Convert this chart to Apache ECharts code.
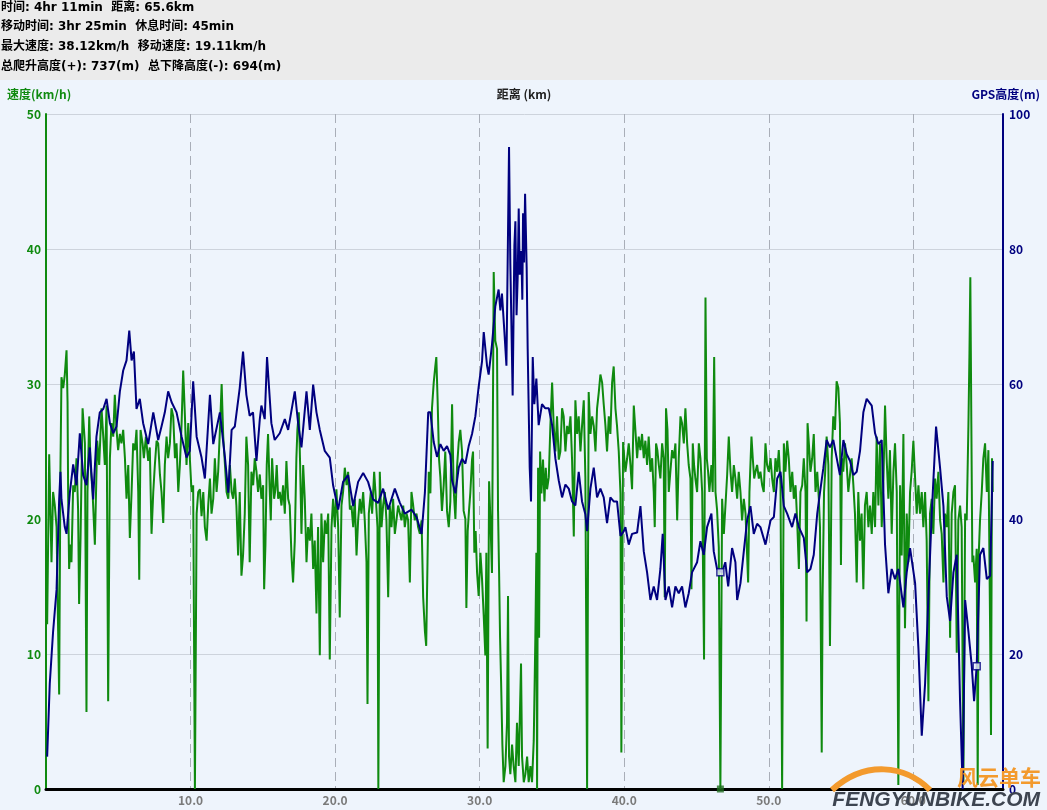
<!DOCTYPE html>
<html><head><meta charset="utf-8">
<script src="https://cdn.jsdelivr.net/npm/echarts@6/dist/echarts.min.js"></script>
<style>html,body{margin:0;padding:0;background:#eef4fc;}#c{width:1047px;height:810px;}</style>
</head><body><div id="c"></div>
<script>
// ---- header text ----
const headerLines = [
  '时间: 4hr 11min  距离: 65.6km',
  '移动时间: 3hr 25min  休息时间: 45min',
  '最大速度: 38.12km/h  移动速度: 19.11km/h',
  '总爬升高度(+): 737(m)  总下降高度(-): 694(m)'
];
const xAxisName = '距离 (km)';
const speedAxisName = '速度(km/h)';
const altAxisName = 'GPS高度(m)';
const xRange = [0, 66.2, 10];
const speedRange = [0, 50, 10];
const altRange = [0, 100, 20];

// ---- speed (km/h) vs distance (km) ----
const speed = [
[0.08,12.2],[0.22,24.8],[0.38,16.8],[0.49,22],[0.61,21],[0.73,19.4],[0.84,11.7],[0.91,7.0],[1.00,23.8],[1.07,30.5],[1.19,29.7],[1.30,30.7],[1.42,32.5],[1.49,28.7],[1.53,22],[1.60,16.3],[1.69,18.1],[1.76,16.8],[1.88,22.5],[1.99,22],[2.11,24.5],[2.22,20.7],[2.29,13.7],[2.39,18.6],[2.53,28.2],[2.69,25.6],[2.80,5.7],[2.87,22],[2.99,27.6],[3.08,24],[3.22,22],[3.38,18.1],[3.54,25.8],[3.68,24],[3.84,28.2],[3.96,26.1],[4.07,24],[4.19,28.4],[4.30,6.5],[4.42,24.5],[4.53,27.1],[4.65,26.1],[4.76,29.2],[4.88,26.6],[4.99,25.1],[5.11,26.3],[5.22,25.6],[5.34,26.6],[5.46,24.5],[5.57,21.5],[5.69,24],[5.80,18.6],[5.92,22],[6.03,25.6],[6.15,25.1],[6.26,26.6],[6.38,22],[6.45,15.5],[6.54,26.6],[6.68,25.6],[6.77,24.5],[6.91,26.1],[7.07,24.3],[7.18,25.3],[7.30,18.9],[7.42,22],[7.53,24],[7.65,25.8],[7.76,25.6],[7.88,23.3],[7.99,22],[8.11,19.7],[8.22,24],[8.34,26.1],[8.45,24.5],[8.57,25.6],[8.68,28.2],[8.80,27.6],[8.92,24.5],[9.03,25.6],[9.15,22],[9.26,24],[9.38,27.1],[9.49,31],[9.61,27.6],[9.72,24],[9.84,27.1],[9.95,24.5],[10.07,22],[10.18,22.5],[10.30,0],[10.42,20.4],[10.53,22],[10.65,22.2],[10.76,20.2],[10.88,22],[10.99,19.4],[11.11,18.4],[11.22,21],[11.34,23],[11.45,20.4],[11.57,21.5],[11.68,24.5],[11.80,22],[11.91,23.5],[12.03,26.6],[12.15,30],[12.26,26.1],[12.38,24],[12.49,22],[12.61,21.5],[12.72,24],[12.84,22],[12.95,21.5],
[13.06,23.0],[13.17,21],[13.29,17.3],[13.40,22],[13.52,15.8],[13.63,17.3],[13.75,20.4],[13.86,26.1],[13.98,24],[14.09,16.8],[14.21,23.5],[14.33,22.5],[14.44,24.5],[14.56,23.5],[14.67,22],[14.79,23.3],[14.90,21.5],[15.02,22.5],[15.09,14.8],[15.18,18.1],[15.27,24],[15.36,26.3],[15.48,22],[15.55,19.9],[15.64,24.5],[15.78,21.5],[15.87,22.2],[15.96,24],[16.06,21.5],[16.17,22],[16.29,21],[16.40,22.5],[16.52,20.4],[16.63,24.3],[16.75,21.5],[16.86,21],[16.98,17.3],[17.09,15.3],[17.21,18.4],[17.32,24.5],[17.39,26.6],[17.49,27.9],[17.58,24],[17.67,18.9],[17.79,24],[17.90,21.5],[18.02,16.8],[18.13,19.4],[18.25,18.4],[18.36,20.4],[18.48,16.3],[18.59,18.4],[18.71,13],[18.82,19.4],[18.94,9.9],[19.05,20.4],[19.17,16.8],[19.29,19.9],[19.40,18.9],[19.52,20.4],[19.63,9.6],[19.75,19.4],[19.86,21.5],[19.98,19.4],[20.09,22.2],[20.21,19.4],[20.32,12.7],[20.44,21],[20.55,22],[20.67,23.8],[20.79,22.5],[20.90,23.5],[21.02,20.7],[21.13,21],[21.25,19.4],[21.36,21.5],[21.48,17.3],[21.59,19.9],[21.71,21.5],[21.82,20.4],[21.94,22],[22.05,19.9],[22.17,16.8],[22.24,6.3],[22.33,20.4],[22.47,22],[22.56,20.4],[22.70,23.5],[22.79,22],[22.93,19.4],[22.99,0],[23.09,23.5],[23.21,19.4],[23.32,21],[23.44,22],[23.55,19.9],[23.67,14.2],[23.78,21],[23.90,19.4],[24.01,21.5],[24.13,18.9],[24.24,19.9],[24.36,21],[24.48,20.4],[24.59,19.9],[24.71,21],[24.82,19.4],[24.94,20.4],[25.05,19.9],[25.17,15.3],[25.28,22],[25.40,21],[25.51,19.9],[25.63,20.4],[25.74,19.4],[25.86,18.9],[25.98,19.9],[26.09,14.2],[26.21,11.7],[26.30,10.6],[26.39,16.8],[26.48,23.5],
[26.59,21.9],[26.70,28.2],[26.82,30.1],[26.93,31.3],[27.00,32.0],[27.09,28.8],[27.19,24.4],[27.28,23.1],[27.39,20.6],[27.51,22.5],[27.62,25.0],[27.74,20.6],[27.86,19.4],[27.97,21.3],[28.09,28.5],[28.20,22.2],[28.32,20.0],[28.43,23.8],[28.55,25.7],[28.66,26.6],[28.78,25.0],[28.89,20.6],[29.01,20.0],[29.08,13.4],[29.17,19.1],[29.26,20.6],[29.35,21.9],[29.47,24.4],[29.54,25.0],[29.63,17.5],[29.72,19.1],[29.82,16.0],[29.93,14.3],[30.05,17.5],[30.16,15.6],[30.28,12.8],[30.39,9.9],[30.46,17.5],[30.55,3.0],[30.65,22.8],[30.74,20.0],[30.85,16.0],[30.97,38.3],[31.08,33.2],[31.20,32.6],[31.27,20.6],[31.34,16.2],[31.41,11.2],[31.48,8.0],[31.57,3.3],[31.66,0.5],[31.78,1.7],[31.89,4.9],[31.96,14.3],[32.03,2.4],[32.12,1.1],[32.24,3.3],[32.35,1.7],[32.47,0.5],[32.58,4.9],[32.70,1.7],[32.86,9.3],[32.93,2.4],[33.05,0.5],[33.16,1.1],[33.28,2.4],[33.39,0.5],[33.51,1.7],[33.62,0.5],[33.74,3.6],[33.85,11.2],[33.92,17.5],[33.97,0],[34.04,23.8],[34.11,11.2],[34.18,25.0],[34.27,21.9],[34.38,24.4],[34.48,21.3],[34.57,23.8],[34.66,22.2],[34.78,23.1],[34.89,26.9],[35.01,30.1],[35.12,26.9],[35.24,25.0],[35.35,27.6],[35.47,24.4],[35.58,25.0],[35.70,28.2],[35.81,27.6],[35.93,25.0],[36.05,26.9],[36.16,26.3],[36.28,27.6],[36.39,24.4],[36.51,18.7],[36.62,28.8],[36.74,26.3],[36.85,27.6],[36.97,25.0],[37.08,26.9],[37.20,28.8],[37.31,23.1],[37.43,0],[37.54,29.4],[37.66,26.3],[37.78,27.6],[37.89,26.9],[38.01,25.0],[38.12,28.2],[38.24,29.4],[38.35,30.7],[38.47,30.1],[38.58,28.5],[38.70,26.9],[38.81,25.0],[38.93,27.6],[39.04,26.3],[39.16,30.1],[39.27,31.3],[39.39,28.2],[39.50,26.9],[39.62,25.0],[39.74,21.9],[39.80,2.7],[39.92,25.7],[40.01,24.4],
[40.08,23.5],[40.20,24.5],[40.31,25.6],[40.43,24],[40.54,22.2],[40.66,28.4],[40.77,26.6],[40.89,24.5],[41.00,26.1],[41.12,25.1],[41.23,26.3],[41.35,24.5],[41.46,25.8],[41.58,24],[41.69,26.1],[41.81,23.5],[41.93,24.5],[42.04,22],[42.11,19.4],[42.20,25.6],[42.29,25.1],[42.39,24],[42.50,23],[42.62,25.6],[42.73,24.5],[42.80,14.2],[42.89,28.2],[42.99,26.6],[43.08,22],[43.19,23.5],[43.31,25.1],[43.43,24.5],[43.54,25.6],[43.66,19.9],[43.77,24.5],[43.89,27.6],[44.00,27.1],[44.12,25.6],[44.23,28.2],[44.35,25.6],[44.46,24],[44.58,23],[44.65,14.8],[44.74,25.6],[44.83,24],[44.92,23],[45.04,22],[45.16,25.6],[45.27,24.5],[45.39,22],[45.52,9.6],[45.62,36.4],[45.71,24.5],[45.80,23.5],[45.89,22],[46.03,24],[46.12,22],[46.22,32],[46.31,22],[46.42,20.7],[46.54,17.9],[46.65,0],[46.77,21.5],[46.89,18.9],[47.00,21],[47.12,23.3],[47.23,26.1],[47.35,23.5],[47.46,22],[47.58,24],[47.69,23],[47.81,21.5],[47.92,23.5],[48.04,22],[48.15,19.9],[48.27,21.5],[48.39,20.4],[48.50,17.3],[48.57,15.3],[48.66,22],[48.80,26.1],[48.89,24.5],[48.99,23],[49.08,23.5],[49.19,24],[49.31,23],[49.42,23.5],[49.54,22.5],[49.65,22],[49.77,25.6],[49.88,24],[50.00,23.5],[50.12,24.5],[50.23,23],[50.35,22],[50.46,24.5],[50.58,23.5],[50.69,25.1],[50.81,22.5],[50.92,0],[51.04,25.6],[51.15,23.5],[51.27,25.8],[51.38,24.5],[51.50,22],[51.62,23.5],[51.73,21.5],[51.85,22.5],[51.96,19.9],[52.08,16.3],[52.19,22],[52.31,22.5],[52.42,24.5],[52.54,22],[52.61,12.4],[52.68,27.1],[52.77,25.6],[52.88,23.5],[53.00,24.5],[53.11,26.3],[53.23,22],[53.35,23.5],[53.46,21.5],
[53.54,19.4],[53.66,2.7],[53.72,14.2],[53.82,22],[53.89,23.3],[54.00,26.1],[54.12,24],[54.23,10.6],[54.35,24.5],[54.46,27.6],[54.58,26.6],[54.69,30.2],[54.81,29.7],[54.92,27.1],[54.99,16.6],[55.06,24.5],[55.15,23.5],[55.27,25.6],[55.39,24],[55.50,22],[55.62,23.3],[55.73,24.5],[55.85,22.5],[55.96,20.4],[56.08,15.3],[56.19,22],[56.31,18.4],[56.42,20.4],[56.54,14.8],[56.65,21],[56.77,22],[56.89,19.4],[57.00,21],[57.12,18.9],[57.23,22],[57.35,19.4],[57.46,26.1],[57.58,21],[57.69,25.6],[57.81,19.4],[57.92,22.5],[58.04,28.4],[58.15,24.5],[58.27,21.5],[58.38,25.1],[58.50,18.9],[58.62,23.5],[58.73,25.6],[58.85,22],[58.96,0.3],[59.08,22.5],[59.19,17.3],[59.31,26.3],[59.42,11.9],[59.54,20.4],[59.65,16.8],[59.77,22],[59.88,23.5],[60.00,25.8],[60.12,23],[60.23,20.4],[60.35,22.5],[60.46,20.4],[60.58,22],[60.69,19.4],[60.81,22],[60.92,18.4],[61.04,6.5],[61.15,20.4],[61.27,21.5],[61.38,18.9],[61.50,23],[61.61,21.5],[61.73,23.5],[61.85,19.9],[61.96,18.9],[62.08,15.3],[62.19,20.4],[62.31,19.4],[62.42,22],[62.54,11.2],[62.65,20.4],[62.77,22],[62.88,22.5],[63.00,10.1],[63.11,19.9],[63.23,21],[63.34,19.4],[63.46,0.3],[63.58,20.4],[63.69,19.9],[63.81,27.1],[63.88,32.3],[63.94,37.9],[64.01,27.1],[64.08,16.8],[64.15,17.3],[64.27,15.3],[64.38,17.8],[64.45,0.3],[64.52,17.3],[64.61,19.9],[64.73,22],[64.84,24.5],[64.96,25.6],[65.08,22],[65.19,25.1],[65.31,11.7],[65.37,4],[65.44,24.5],[65.49,22]
];

// ---- GPS altitude (m) vs distance (km) ----
const altitude = [
[0.08,4.8],[0.26,15.6],[0.49,23.3],[0.73,29.5],[0.91,42.9],[1.00,47.0],[1.07,42.9],[1.30,38.8],[1.42,37.8],[1.65,43.9],[1.88,48.1],[2.11,45.0],[2.34,52.7],[2.57,46.5],[2.80,45.0],[3.03,50.6],[3.26,42.9],[3.49,52.2],[3.72,55.8],[3.96,56.3],[4.19,57.8],[4.42,54.2],[4.65,52.7],[4.88,53.7],[5.11,58.9],[5.34,62.0],[5.57,63.5],[5.76,67.9],[5.92,63.5],[6.08,64.8],[6.26,56.3],[6.49,57.8],[6.72,54.2],[7.07,51.1],[7.42,55.8],[7.76,51.7],[7.99,53.7],[8.22,55.8],[8.45,58.9],[8.69,57.3],[9.03,55.8],[9.38,52.2],[9.72,49.1],[9.95,50.1],[10.18,60.4],[10.42,52.2],[10.76,49.1],[10.99,46.0],[11.34,58.4],[11.57,51.1],[12.03,55.8],[12.38,49.1],[12.61,43.9],[12.84,53.2],
[13.06,53.7],[13.40,59.4],[13.63,64.8],[13.86,58.4],[14.09,55.3],[14.32,55.8],[14.56,48.6],[14.79,54.8],[14.90,56.8],[15.13,54.8],[15.29,64.0],[15.59,54.2],[15.82,51.7],[16.17,52.7],[16.52,54.8],[16.75,53.2],[17.21,58.9],[17.44,54.2],[17.67,50.6],[18.02,58.9],[18.25,53.2],[18.48,59.9],[18.71,55.8],[18.94,53.2],[19.28,50.1],[19.63,49.1],[19.86,45.0],[20.21,41.4],[20.55,45.5],[20.90,46.5],[21.25,41.9],[21.59,45.5],[21.94,46.8],[22.28,45.5],[22.63,42.9],[22.98,42.4],[23.32,44.5],[23.67,41.4],[24.13,44.5],[24.48,42.4],[24.82,40.8],[25.28,41.4],[25.63,40.3],[25.98,37.8],[26.21,43.9],[26.44,55.8],
[26.59,55.8],[26.82,51.4],[27.05,49.2],[27.28,51.1],[27.51,50.1],[27.74,50.8],[27.97,49.5],[28.09,45.7],[28.32,43.8],[28.55,47.6],[28.78,48.9],[29.01,48.2],[29.24,50.8],[29.47,52.6],[29.70,55.2],[29.93,59.6],[30.16,63.3],[30.28,67.7],[30.51,62.7],[30.62,61.4],[30.85,65.8],[31.08,71.5],[31.31,74.0],[31.43,70.9],[31.54,73.4],[31.71,67.7],[31.85,62.7],[32.03,95.1],[32.12,77.8],[32.28,58.3],[32.40,80.5],[32.47,84.1],[32.55,70.2],[32.63,75.9],[32.70,86.0],[32.77,76.2],[32.88,79.7],[32.95,72.5],[33.00,85.3],[33.07,78.0],[33.14,88.2],[33.25,77.2],[33.32,65.2],[33.46,47.6],[33.55,42.6],[33.67,64.0],[33.78,57.0],[33.92,60.8],[34.08,53.9],[34.31,57.0],[34.54,56.4],[34.78,56.4],[35.01,53.9],[35.24,48.9],[35.47,45.7],[35.70,43.2],[35.93,45.1],[36.16,44.5],[36.39,42.6],[36.62,42.0],[36.85,47.0],[37.08,42.6],[37.31,40.7],[37.43,38.2],[37.66,44.5],[37.89,47.6],[38.12,43.2],[38.35,44.5],[38.58,43.2],[38.81,39.4],[39.04,43.2],[39.27,42.6],[39.50,42.6],[39.74,37.5],[39.97,38.2],
[40.08,38.8],[40.31,36.2],[40.54,37.8],[40.89,38.0],[41.12,41.9],[41.35,35.2],[41.58,32.1],[41.81,28.0],[42.04,30.0],[42.27,28.0],[42.50,32.6],[42.66,37.8],[42.85,28.0],[43.08,30.0],[43.31,26.9],[43.54,30.0],[43.77,29.0],[44.00,30.0],[44.23,26.9],[44.46,29.0],[44.69,32.1],[45.04,33.6],[45.27,36.7],[45.50,34.7],[45.73,38.8],[46.03,40.8],[46.19,35.2],[46.42,32.6],[46.77,32.1],[46.99,33.6],[47.19,30.0],[47.46,35.7],[47.69,33.6],[47.81,28.0],[48.04,30.5],[48.27,35.2],[48.50,39.8],[48.73,41.9],[48.96,37.8],[49.19,39.3],[49.42,38.8],[49.77,36.2],[50.12,39.8],[50.35,40.3],[50.58,46.0],[50.81,47.0],[51.04,41.9],[51.27,40.8],[51.61,38.8],[51.84,40.8],[52.08,38.8],[52.42,37.2],[52.65,32.1],[52.88,32.6],[53.11,34.7],[53.35,40.8],
[53.54,43.9],[53.77,47.5],[54.00,51.7],[54.23,50.6],[54.46,51.7],[54.69,49.1],[54.92,46.5],[55.16,51.7],[55.39,49.6],[55.62,48.6],[55.85,46.5],[56.08,47.0],[56.31,50.1],[56.54,55.8],[56.77,57.8],[57.12,56.8],[57.35,52.7],[57.58,51.1],[57.81,51.7],[58.04,36.2],[58.27,29.0],[58.50,32.6],[58.73,31.1],[58.96,32.6],[59.31,26.9],[59.54,32.1],[59.77,35.7],[60.12,30.5],[60.35,20.8],[60.58,7.9],[60.81,15.6],[61.04,28.5],[61.27,40.8],[61.57,53.7],[61.85,47.5],[62.08,41.9],[62.31,28.5],[62.54,24.9],[62.77,32.1],[63.00,34.7],[63.23,13.0],[63.41,0],[63.58,28.0],[63.81,23.3],[64.04,18.2],[64.20,13.0],[64.38,18.2],[64.61,34.7],[64.84,35.7],[65.08,31.1],[65.31,31.6],[65.49,48.6]
];

// small position markers seen on the traces
const speedMarkers = [[46.65, 0]];
const altMarkers = [[46.65, 32.1], [64.38, 18.2]];

const GREEN = '#0f8a0f', NAVY = '#00007f';
const FONT = '"Noto Sans CJK SC", "Noto Sans", sans-serif';
const HFONT = '"DejaVu Sans", "Noto Sans CJK SC", sans-serif';

const chart = echarts.init(document.getElementById('c'), null, {renderer: 'canvas'});

const graphics = [
  {type: 'rect', left: 0, top: 0, shape: {width: 1047, height: 80}, style: {fill: '#ebebeb'}, z: -10, silent: true}
];
const headerY = [8, 27, 47, 67];
headerLines.forEach((t, i) => graphics.push({
  type: 'text', x: 1, y: headerY[i],
  style: {text: t, fill: '#000', font: 'bold 12px ' + HFONT, textVerticalAlign: 'middle'}
}));
graphics.push(
  {type: 'text', x: 7, y: 94, style: {text: speedAxisName, fill: GREEN, font: 'bold 12px ' + FONT, textVerticalAlign: 'middle'}},
  {type: 'text', x: 524, y: 94, style: {text: xAxisName, fill: '#222', font: 'bold 12px ' + FONT, textAlign: 'center', textVerticalAlign: 'middle'}},
  {type: 'text', x: 1040, y: 94, style: {text: altAxisName, fill: NAVY, font: 'bold 12px ' + FONT, textAlign: 'right', textVerticalAlign: 'middle'}},
  // watermark
  {type: 'bezierCurve', shape: {x1: 832, y1: 790, x2: 930, y2: 790, cpx1: 865, cpy1: 760, cpx2: 905, cpy2: 765},
   style: {stroke: '#f39a2d', lineWidth: 6, fill: null}, z: 50},
  {type: 'text', x: 957, y: 777, style: {text: '风云单车', fill: '#f39a2d', font: 'bold 21px "Noto Sans CJK SC"', textVerticalAlign: 'middle'}, z: 50},
  {type: 'text', x: 1040, y: 800, style: {text: 'FENGYUNBIKE.COM', fill: '#3d4450', font: 'italic bold 21px "Liberation Sans"', textAlign: 'right', textVerticalAlign: 'middle'}, z: 50}
);

chart.setOption({
  animation: false,
  backgroundColor: '#eef4fc',
  grid: {left: 46, right: 44, top: 114, bottom: 21, containLabel: false},
  xAxis: {
    type: 'value', min: xRange[0], max: xRange[1], interval: xRange[2],
    axisLine: {lineStyle: {color: '#000', width: 3}},
    axisTick: {show: false},
    axisLabel: {color: '#7a7a7a', fontWeight: 'bold', fontSize: 12, fontFamily: FONT, margin: 5,
      showMinLabel: false, showMaxLabel: false, formatter: v => v.toFixed(1)},
    splitLine: {show: true, lineStyle: {color: '#a9aeb8', type: [9, 5], width: 1}}
  },
  yAxis: [
    {type: 'value', min: speedRange[0], max: speedRange[1], interval: speedRange[2], position: 'left',
     axisLine: {show: true, lineStyle: {color: GREEN, width: 2}},
     axisTick: {show: false},
     axisLabel: {color: GREEN, fontWeight: 'bold', fontSize: 12, fontFamily: FONT, margin: 5},
     splitLine: {show: true, lineStyle: {color: '#cdd3dc', width: 1}}},
    {type: 'value', min: altRange[0], max: altRange[1], interval: altRange[2], position: 'right',
     axisLine: {show: true, lineStyle: {color: NAVY, width: 2}},
     axisTick: {show: false},
     axisLabel: {color: NAVY, fontWeight: 'bold', fontSize: 12, fontFamily: FONT, margin: 6},
     splitLine: {show: false}}
  ],
  series: [
    {name: '速度', type: 'line', yAxisIndex: 0, data: speed, showSymbol: false, symbol: 'none',
     lineStyle: {color: GREEN, width: 2}, z: 2},
    {name: 'GPS高度', type: 'line', yAxisIndex: 1, data: altitude, showSymbol: false, symbol: 'none',
     lineStyle: {color: NAVY, width: 2}, z: 3},
    {type: 'scatter', yAxisIndex: 0, data: speedMarkers, symbol: 'rect', symbolSize: 7,
     itemStyle: {color: '#1f6b1f'}, z: 4},
    {type: 'scatter', yAxisIndex: 1, data: altMarkers, symbol: 'rect', symbolSize: 7,
     itemStyle: {color: '#eef4fc', borderColor: NAVY, borderWidth: 1.5}, z: 4}
  ],
  graphic: graphics
});
</script></body></html>
